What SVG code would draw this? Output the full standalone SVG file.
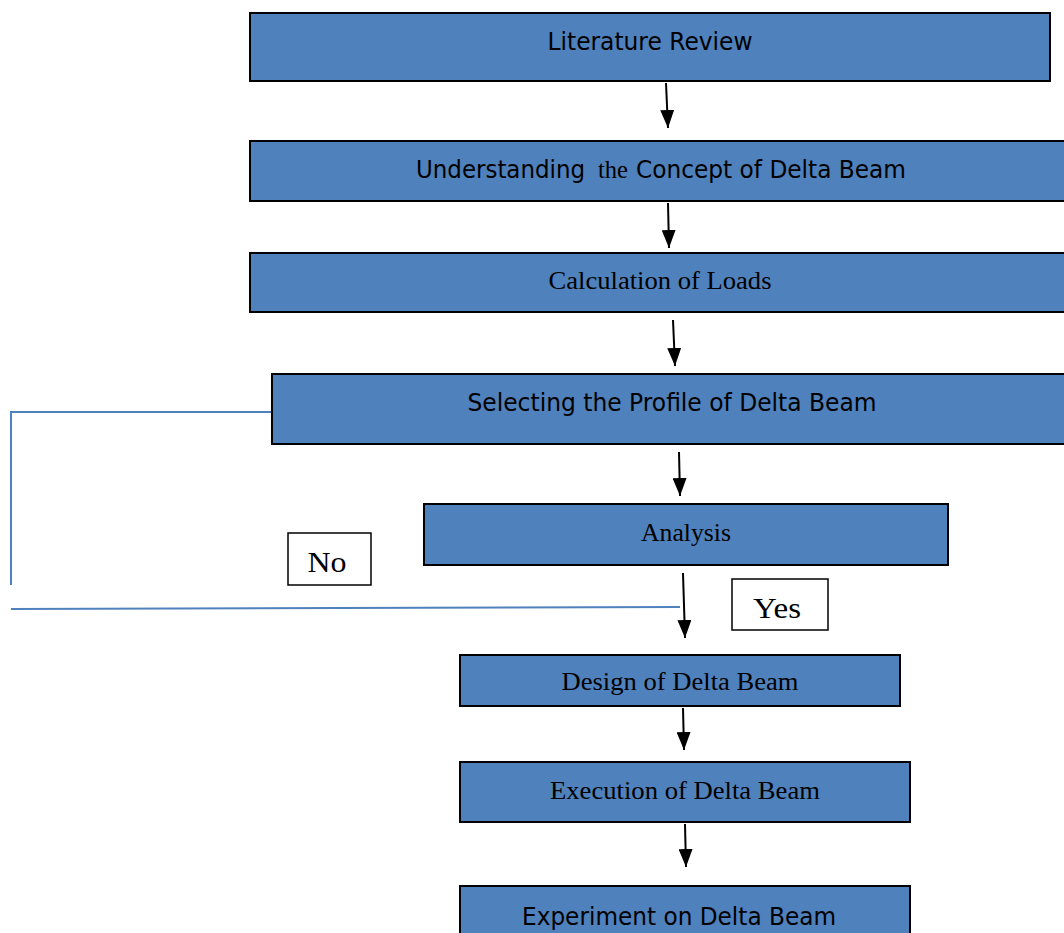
<svg xmlns="http://www.w3.org/2000/svg" width="1064" height="933" viewBox="0 0 1064 933">
<style>
.box{fill:#4F81BD;stroke:#000;stroke-width:2}
.lbl{fill:#fff;stroke:#000;stroke-width:1.5}
.sans{font-family:"DejaVu Sans","Liberation Sans",sans-serif;font-size:24px;fill:#000}
.serif{font-family:"Liberation Serif","Times New Roman",serif;font-size:26px;fill:#000}
.big{font-size:30px}
.arr{stroke:#000;stroke-width:2;fill:none;marker-end:url(#ah)}
.fb{stroke:#4F81BD;stroke-width:2;fill:none}
</style>
<defs>
<marker id="ah" viewBox="0 0 18 14" refX="18" refY="7" markerWidth="18" markerHeight="14" markerUnits="userSpaceOnUse" orient="auto">
<path d="M0,0 L18,7 L0,14 z" fill="#000"/>
</marker>
</defs>
<rect width="1064" height="933" fill="#fff"/>
<g id="connectors">
<line class="arr" x1="666" y1="83" x2="668" y2="128"/>
<line class="arr" x1="668" y1="203" x2="669" y2="248"/>
<line class="arr" x1="673" y1="320" x2="675" y2="366"/>
<line class="arr" x1="679" y1="452" x2="680" y2="496"/>
<line class="arr" x1="683" y1="573" x2="685" y2="638"/>
<line class="arr" x1="683" y1="708" x2="684" y2="750"/>
<line class="arr" x1="685" y1="824" x2="686" y2="867"/>
<polyline class="fb" points="272,412 11,412 11,585"/>
<line class="fb" x1="11" y1="609" x2="680" y2="607"/>
</g>
<g id="n1"><rect class="box" x="250" y="13" width="800" height="68"/><text class="sans" x="650" y="50" text-anchor="middle" textLength="205" lengthAdjust="spacingAndGlyphs">Literature Review</text></g>
<g id="n2"><rect class="box" x="250" y="141" width="820" height="60"/>
<text class="sans" x="416" y="178" textLength="169" lengthAdjust="spacingAndGlyphs">Understanding</text>
<text class="serif" x="598" y="178" textLength="30" lengthAdjust="spacingAndGlyphs">the</text>
<text class="sans" x="636" y="178" textLength="270" lengthAdjust="spacingAndGlyphs">Concept of Delta Beam</text></g>
<g id="n3"><rect class="box" x="250" y="253" width="820" height="59"/><text class="serif" x="660" y="289" text-anchor="middle" textLength="223" lengthAdjust="spacingAndGlyphs">Calculation of Loads</text></g>
<g id="n4"><rect class="box" x="272" y="374" width="798" height="70"/><text class="sans" x="672" y="411" text-anchor="middle" textLength="409" lengthAdjust="spacingAndGlyphs">Selecting the Profile of Delta Beam</text></g>
<g id="n5"><rect class="box" x="424" y="504" width="524" height="61"/><text class="serif" x="686" y="541" text-anchor="middle" textLength="90" lengthAdjust="spacingAndGlyphs">Analysis</text></g>
<g id="no"><rect class="lbl" x="288" y="533" width="83" height="52"/><text class="serif big" x="327" y="572" text-anchor="middle" textLength="39" lengthAdjust="spacingAndGlyphs">No</text></g>
<g id="yes"><rect class="lbl" x="732" y="579" width="96" height="51"/><text class="serif big" x="777" y="618" text-anchor="middle" textLength="48" lengthAdjust="spacingAndGlyphs">Yes</text></g>
<g id="n6"><rect class="box" x="460" y="655" width="440" height="51"/><text class="serif" x="680" y="690" text-anchor="middle" textLength="237" lengthAdjust="spacingAndGlyphs">Design of Delta Beam</text></g>
<g id="n7"><rect class="box" x="460" y="762" width="450" height="60"/><text class="serif" x="685" y="799" text-anchor="middle" textLength="270" lengthAdjust="spacingAndGlyphs">Execution of Delta Beam</text></g>
<g id="n8"><rect class="box" x="460" y="886" width="450" height="60"/><text class="sans" x="679" y="925" text-anchor="middle" textLength="314" lengthAdjust="spacingAndGlyphs">Experiment on Delta Beam</text></g>
</svg>
